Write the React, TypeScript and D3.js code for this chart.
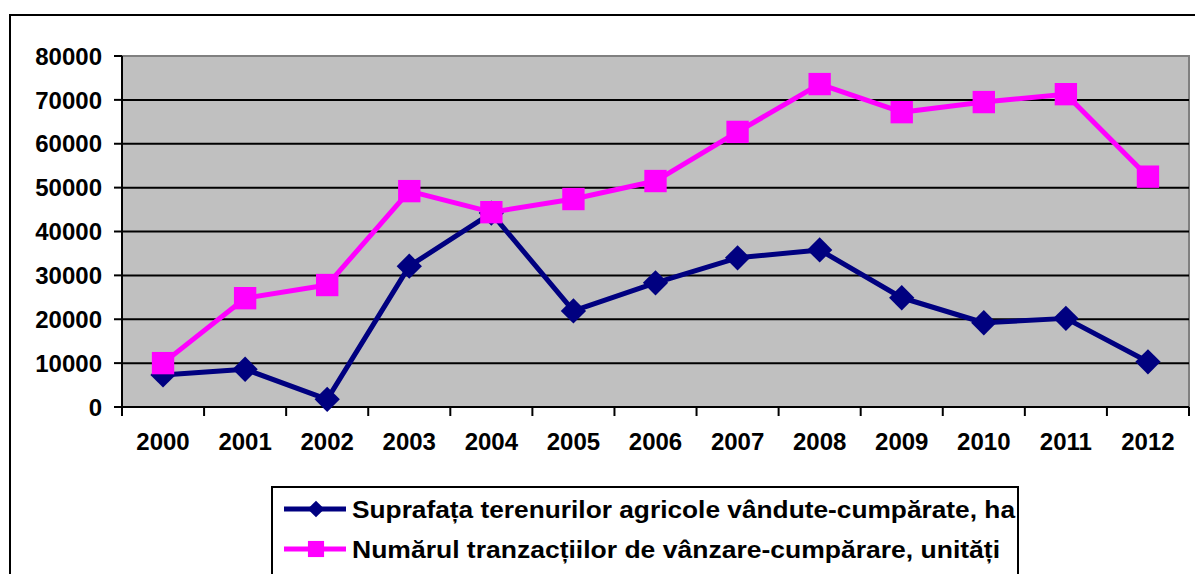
import React from 'react';
import {scaleBand, scaleLinear, line, symbol, symbolSquare} from 'd3';

// ani, suprafata (ha), numar tranzactii (unitati)
const years = ['2000', '2001', '2002', '2003', '2004', '2005', '2006', '2007', '2008', '2009', '2010', '2011', '2012'];
const suprafata = [7300, 8600, 1750, 32100, 44200, 21900, 28300, 34000, 35800, 24900, 19200, 20200, 10300];
const tranzactii = [10000, 24800, 27800, 49200, 44400, 47400, 51500, 62700, 73600, 67200, 69500, 71300, 52500];
const yTicks = [0, 10000, 20000, 30000, 40000, 50000, 60000, 70000, 80000];
const legendLabels = [
    'Suprafața terenurilor agricole vândute-cumpărate, ha',
    'Numărul tranzacțiilor de vânzare-cumpărare, unități',
];

const width = 1195;
const height = 574;
const plot = {left: 122, top: 56, right: 1189, bottom: 407};
const font = 'Arial, "Liberation Sans", sans-serif';

export default function App() {
    const x = scaleBand().domain(years).range([plot.left, plot.right]);
    const y = scaleLinear().domain([0, 80000]).range([plot.bottom, plot.top]);
    const cx = (d: string) => (x(d) as number) + x.bandwidth() / 2;

    const path = line<number>()
        .x((d, i) => cx(years[i]))
        .y(d => y(d));

    // square rotated 45deg = Excel-style diamond
    const diamond = symbol().type(symbolSquare).size(320)();
    const square = symbol().type(symbolSquare).size(500)();
    const diamondSmall = symbol().type(symbolSquare).size(140)();
    const squareSmall = symbol().type(symbolSquare).size(260)();

    const series = [
        {values: suprafata, color: '#000080', marker: diamond, small: diamondSmall, rot: 45},
        {values: tranzactii, color: '#ff00ff', marker: square, small: squareSmall, rot: 0},
    ];

    return (
        <svg width={width} height={height} style={{position: 'absolute', left: 0, top: 0, background: '#fff'}}>
            {/* chart frame */}
            <rect x={10} y={15} width={1200} height={600} fill="#fff" stroke="#000" strokeWidth={2} />

            {/* plot area */}
            <rect x={plot.left} y={plot.top} width={plot.right - plot.left} height={plot.bottom - plot.top}
                fill="#c0c0c0" stroke="#808080" strokeWidth={2} />
            {yTicks.filter(t => t > 0 && t < 80000).map(t => (
                <line key={t} x1={plot.left} x2={plot.right} y1={y(t)} y2={y(t)} stroke="#000" strokeWidth={2} />
            ))}

            {/* y axis */}
            <line x1={plot.left} x2={plot.left} y1={plot.top} y2={plot.bottom} stroke="#000" strokeWidth={2} />
            {yTicks.map(t => (
                <g key={t}>
                    <line x1={plot.left - 8} x2={plot.left} y1={y(t)} y2={y(t)} stroke="#000" strokeWidth={2} />
                    <text x={102} y={y(t)} dy="0.36em" textAnchor="end" fontFamily={font} fontWeight="bold" fontSize={24}>{t}</text>
                </g>
            ))}

            {/* x axis */}
            <line x1={plot.left} x2={plot.right} y1={plot.bottom} y2={plot.bottom} stroke="#000" strokeWidth={2} />
            {years.concat(['end']).map((d, i) => {
                const xx = plot.left + i * x.step();
                return <line key={d} x1={xx} x2={xx} y1={plot.bottom} y2={plot.bottom + 9} stroke="#000" strokeWidth={2} />;
            })}
            {years.map(d => (
                <text key={d} x={cx(d)} y={441} dy="0.36em" textAnchor="middle" fontFamily={font} fontWeight="bold" fontSize={24}>{d}</text>
            ))}

            {/* series */}
            {series.map((s, si) => (
                <g key={si}>
                    <path d={path(s.values) as string} fill="none" stroke={s.color} strokeWidth={5} strokeLinejoin="round" />
                    {s.values.map((v, i) => (
                        <path key={i} d={s.marker as string}
                            transform={`translate(${cx(years[i])},${y(v)}) rotate(${s.rot})`} fill={s.color} />
                    ))}
                </g>
            ))}

            {/* legend */}
            <rect x={272} y={487} width={746} height={120} fill="#fff" stroke="#000" strokeWidth={2} />
            {series.map((s, i) => {
                const ly = 509 + i * 40;
                return (
                    <g key={i}>
                        <line x1={284} x2={346} y1={ly} y2={ly} stroke={s.color} strokeWidth={5} />
                        <path d={s.small as string} transform={`translate(316,${ly}) rotate(${s.rot})`} fill={s.color} />
                        <text x={352} y={ly} dy="0.36em" fontFamily={font} fontWeight="bold" fontSize={24}
                            textLength={i === 0 ? 663 : 648} lengthAdjust="spacingAndGlyphs">{legendLabels[i]}</text>
                    </g>
                );
            })}
        </svg>
    );
}
